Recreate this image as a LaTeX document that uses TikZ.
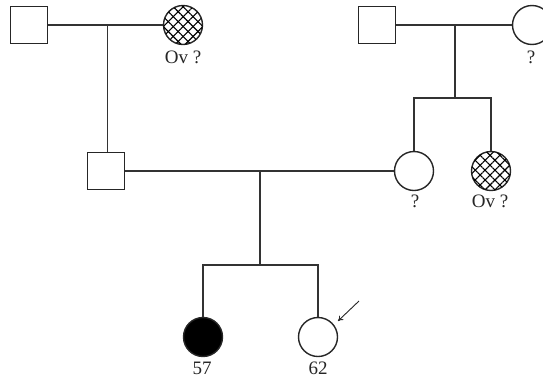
\documentclass[tikz,border=0pt]{standalone}
\usepackage{fontspec}
\setmainfont{Liberation Serif}
\usetikzlibrary{patterns.meta,arrows.meta}
\begin{document}
\begin{tikzpicture}[x=1pt,y=-1pt,
  line width=1.4pt, draw=black!85,
  male/.style={draw, minimum size=37pt, inner sep=0pt, line width=1.4pt},
  female/.style={draw, circle, minimum size=39pt, inner sep=0pt, line width=1.4pt},
  hatched/.style={female, postaction={pattern={Lines[angle=45,distance=7pt,line width=1.1pt]}},
                  postaction={pattern={Lines[angle=-45,distance=7pt,line width=1.1pt]}}},
  affected/.style={female, fill=black},
  lbl/.style={font=\fontsize{19}{21}\selectfont, text=black!85, inner sep=0pt},
  link/.style={line width=1.4pt, draw=black!80}]
\useasboundingbox (0,0) rectangle (543,378);
% first generation, paternal side
\node[male] (gf1) at (29,25) {};
\node[hatched] (gm1) at (183,25) {};
\node[lbl] (gm1l) at (183,57) {Ov ?};
% first generation, maternal side
\node[male] (gf2) at (377,25) {};
\node[female] (gm2) at (532,25) {};
\node[lbl] (gm2l) at (531,57) {?};
% second generation
\node[male] (fa) at (106,171) {};
\node[female] (mo) at (414,171) {};
\node[lbl] (mol) at (415,201) {?};
\node[hatched] (au) at (491,171) {};
\node[lbl] (aul) at (490,201) {Ov ?};
% third generation
\node[affected] (c1) at (203,337) {};
\node[lbl] (c1l) at (202,368) {57};
\node[female] (c2) at (318,337) {};
\node[lbl] (c2l) at (318,368) {62};
% junctions
\coordinate (m1) at (107.5,25);
\coordinate (m2) at (455,25);
\coordinate (s2) at (455,98);
\coordinate (m3) at (260,171);
\coordinate (s3) at (260,265);
% marriages
\draw[link] (gf1.east) -- (gm1.west);
\draw[link] (gf2.east) -- (gm2.west);
\draw[link] (fa.east) -- (mo.west);
% descent lines
\draw[link] (m1) -- (m1 |- fa.north);
\draw[link] (m2) -- (s2);
\draw[link] (mo.north) |- (s2) -| (au.north);
\draw[link] (m3) -- (s3);
\draw[link] (c1.north) |- (s3) -| (c2.north);
% proband arrow
\coordinate (pa) at (359,301);
\draw[line width=0.9pt, -{To[length=5pt,width=6pt]}] (pa) -- (338,321);
\end{tikzpicture}
\end{document}
